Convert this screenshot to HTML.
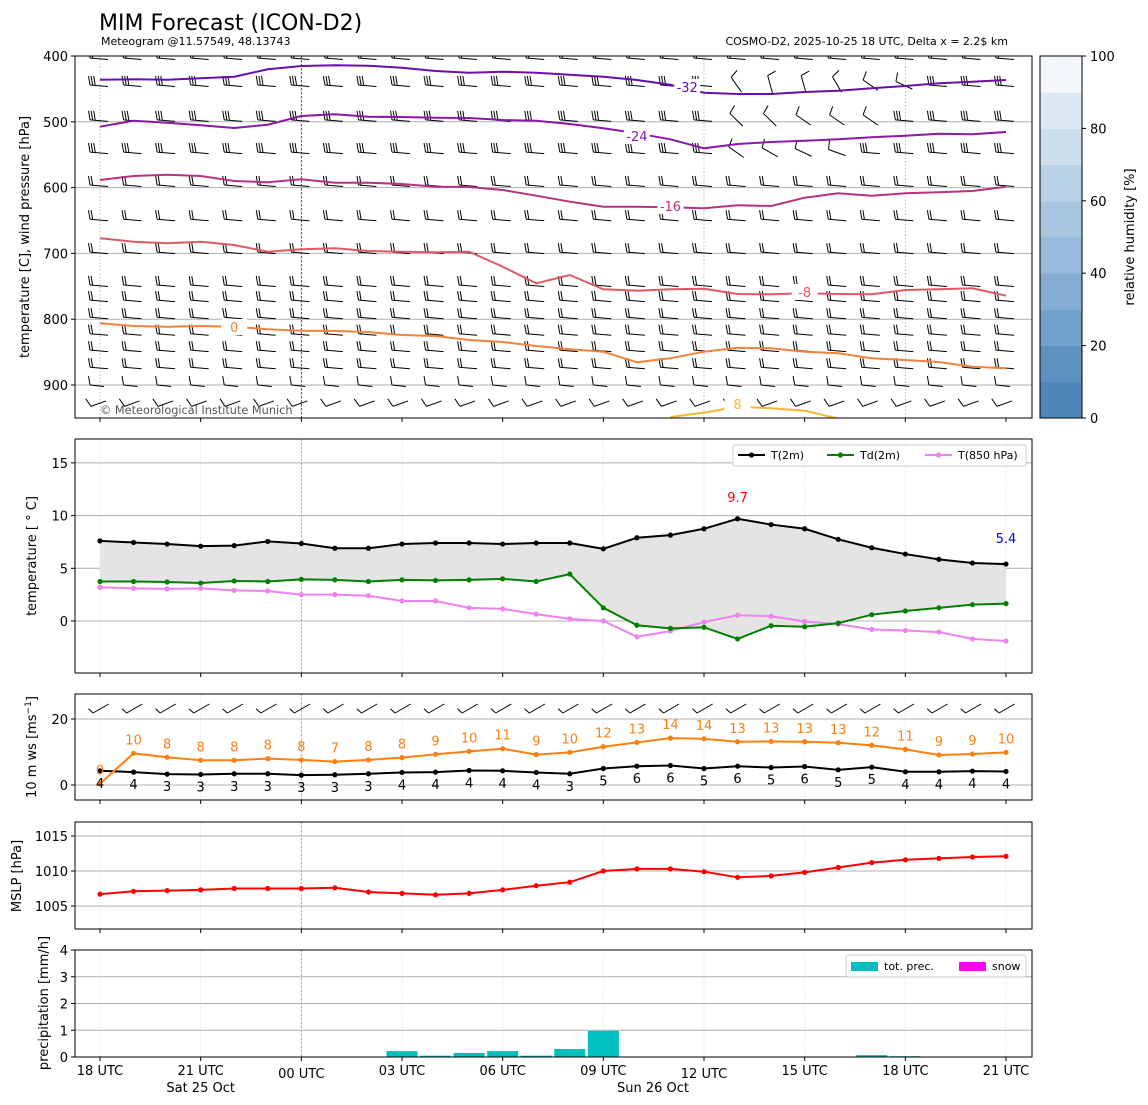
<!DOCTYPE html>
<html><head><meta charset="utf-8"><style>
html,body{margin:0;padding:0;background:#fff}
svg{display:block;font-family:"DejaVu Sans","Liberation Sans",sans-serif}
</style></head><body>
<svg id="chart" width="1148" height="1105" viewBox="0 0 1148 1105" xmlns="http://www.w3.org/2000/svg">
<defs>
<clipPath id="c1"><rect x="75" y="56" width="957" height="362"/></clipPath>
<clipPath id="c2"><rect x="75" y="439" width="957" height="234"/></clipPath>
<clipPath id="c3"><rect x="75" y="694" width="957" height="106"/></clipPath>
</defs>
<text x="99" y="30" font-size="22">MIM Forecast (ICON-D2)</text>
<text x="101" y="45" font-size="11">Meteogram @11.57549, 48.13743</text>
<text x="1008" y="45" font-size="11" text-anchor="end">COSMO-D2, 2025-10-25 18 UTC, Delta x = 2.2$ km</text>
<g id="root"></g>
</svg>
<script>
// ---- data ----
const hours = [0,1,2,3,4,5,6,7,8,9,10,11,12,13,14,15,16,17,18,19,20,21,22,23,24,25,26,27];
const contourM32 = [436,435.4,436,433.9,431.5,420.2,415.2,414.1,414.7,417.8,422.8,425.4,423.9,425.4,428.4,431.5,436.5,443.6,455.8,457.8,457.8,454.7,452.7,449.1,445.6,441.5,439,436.5];
const contourM24 = [507.4,498.3,501.4,505.3,509.4,504.4,491.2,488.6,492.2,492.7,493.8,494.2,497.3,498.3,503.3,509.9,517.5,526.6,540.3,533.7,530.7,528.7,526.6,523.6,521.2,518.1,519,515.5];
const contourM16 = [588.4,582.4,580.4,582.4,590,591.9,587.4,592.6,592.6,594.5,598.6,599.1,603.6,612.3,621.4,629,629,629.9,631.5,626.9,628,615.3,608.7,612.3,608.7,607.1,605.2,598.6];
const contourM8 = [677,682.2,684.7,682.2,687.2,697.4,693.8,692.2,696.4,697.4,698.3,697.4,720.2,745.4,732.8,754.6,756.7,754.6,753.6,761.7,762.2,760.6,761.7,762.2,755.6,754.6,753.1,764.3];
const contour0 = [806.2,810.3,811.4,810.3,811.4,815.3,817.5,817.9,819.5,824,825.5,831.6,834.7,840.7,845.7,849.4,865.5,859.4,849.4,843.3,844.2,849.4,851.8,859.4,862,865,872.2,874.6];
const contour8 = [null,null,null,null,null,null,null,null,null,null,null,null,null,null,null,null,null,948.6,942,933,935.4,939,951,null,null,null,null,null];
const t2m = [7.6,7.45,7.3,7.1,7.15,7.55,7.35,6.9,6.9,7.3,7.4,7.4,7.3,7.4,7.4,6.85,7.9,8.15,8.75,9.7,9.15,8.75,7.75,6.95,6.35,5.85,5.5,5.4];
const td2m = [3.75,3.75,3.7,3.6,3.8,3.75,3.95,3.9,3.75,3.9,3.85,3.9,4.0,3.75,4.45,1.25,-0.4,-0.7,-0.6,-1.7,-0.45,-0.55,-0.2,0.6,0.95,1.25,1.55,1.65];
const t850 = [3.2,3.1,3.05,3.1,2.9,2.85,2.5,2.5,2.4,1.9,1.9,1.25,1.15,0.65,0.2,0.0,-1.5,-0.95,-0.1,0.55,0.45,-0.05,-0.3,-0.8,-0.9,-1.05,-1.7,-1.9];
const gust10m = [0.4,9.6,8.4,7.5,7.5,8,7.6,7.1,7.6,8.3,9.3,10.2,11,9.2,9.9,11.6,12.9,14.2,14,13.1,13.2,13.1,12.8,12,10.8,9.1,9.4,9.9];
const ws10m = [4.3,3.9,3.3,3.2,3.4,3.4,3,3.1,3.4,3.8,3.9,4.4,4.3,3.8,3.4,5,5.7,5.9,5,5.7,5.3,5.6,4.6,5.4,4,4,4.2,4.1];
const mslp = [1006.7,1007.1,1007.2,1007.3,1007.5,1007.5,1007.5,1007.6,1007.0,1006.8,1006.6,1006.8,1007.3,1007.9,1008.4,1010.0,1010.3,1010.3,1009.9,1009.1,1009.3,1009.8,1010.5,1011.2,1011.6,1011.8,1012.0,1012.1];
const precip = [0,0,0,0,0,0,0,0,0,0.22,0.05,0.15,0.22,0.05,0.3,0.98,0,0,0,0,0,0,0,0.07,0.03,0,0,0];
const barbLevels = [400,441,494,543,593,645,695,745,768,794,819,844,870,897,923];
const barbFeathers = [2,3,3,3,2,2,2,2,2,2,2,2,2,1,1];
const pTicks = [400,500,600,700,800,900];
const tTicks = [0,5,10,15];
const wTicks = [0,20];
const mTicks = [1005,1010,1015];
const rTicks = [0,1,2,3,4];
const rhTicks = [0,20,40,60,80,100];
const xTickHours = [0,3,6,9,12,15,18,21,24,27];
const xTickLabels = ['18 UTC','21 UTC','00 UTC','03 UTC','06 UTC','09 UTC','12 UTC','15 UTC','18 UTC','21 UTC'];

// ---- scales ----
const X = h => 100 + h*(906/27);
const yP = p => 56 + (p-400)*0.658;
const yT = t => 621 - t*10.54;
const yW = v => 785 - v*3.3;
const yM = m => 871 - (m-1010)*7;
const yR = r => 1057 - r*26.75;
const NS='http://www.w3.org/2000/svg';
const root=document.getElementById('root');
function mk(tag,attrs,parent){const e=document.createElementNS(NS,tag);for(const k in attrs)e.setAttribute(k,attrs[k]);(parent||root).appendChild(e);return e;}
function txt(s,attrs,parent){const e=mk('text',attrs,parent);e.textContent=s;return e;}
const panels=[[56,418],[439,673],[694,800],[822,929],[950,1057]];

// grids (vertical)
panels.forEach((pp,i)=>{
  xTickHours.forEach(h=>{
    if(h===6) return;
    if(i===0 && !(h===0||h===18||h===24)) return;
    const g=mk('line',{x1:X(h),x2:X(h),y1:pp[0],y2:pp[1],stroke:i===0?'#aaa':'#e4e4e4','stroke-width':0.8,'stroke-dasharray':i===0?'1.5,2':'2,1.5'});
    
    
  });
  const m=mk('line',{x1:X(6),x2:X(6),y1:pp[0],y2:pp[1],stroke:i===0?'#222':'#999','stroke-width':0.8,'stroke-dasharray':'2.5,1.5'});
  
  
});

// ---- Panel 1 ----
const p1=mk('g',{'clip-path':'url(#c1)'});


pTicks.forEach(p=>{ if(p>400) mk('line',{x1:75,x2:1032,y1:yP(p),y2:yP(p),stroke:'#b0b0b0','stroke-width':1},p1);});
function barb(x,y,ang,n,par,len){
  const g=mk('g',{transform:`translate(${x},${y}) rotate(${ang})`,stroke:'#000','stroke-width':1,fill:'none'},par);
  
  
  mk('line',{x1:-10,y1:0,x2:len,y2:1.5},g);
  for(let k=0;k<n;k++) mk('line',{x1:-10+k*2.6,y1:0,x2:-11.5+k*2.6,y2:-9},g);
}
const barbAngles={441:{19:50,20:70,21:70,22:55,23:30,24:20},494:{19:40,20:40,21:30,22:30,23:30},543:{19:30,20:25,21:20,22:15}};
barbLevels.forEach((p,r)=>{
  hours.forEach(h=>{
    let a=0,len=8,n=barbFeathers[r];
    if(barbAngles[p]&&barbAngles[p][h]!==undefined){a=barbAngles[p][h];n=1;}
    if(p===897){len=4;}
    if(p===923){a=-25;len=6;}
    barb(X(h),yP(p)+2,a,n,p1,len);
  });
});
const contours=[[contourM32,'#6a0dad','-32',17.5,88],[contourM24,'#8b18a8','-24',16,137],[contourM16,'#b8327f','-16',17,207],[contourM8,'#df5a66','-8',21,293],[contour0,'#f4823c','0',4,328],[contour8,'#f8b82e','8',19,405]];
contours.forEach(c=>{
  let d='';let started=false;
  c[0].forEach((v,i)=>{ if(v===null){started=false;return;} d+=(started?'L':'M')+X(hours[i]).toFixed(1)+','+yP(v).toFixed(1); started=true;});
  const pth=mk('path',{d:d,fill:'none',stroke:c[1],'stroke-width':2},p1);
  
  
  const lx=X(c[3]);
  mk('rect',{x:lx-13,y:c[4]-9,width:26,height:16,fill:'#fff'},p1);
  const t=txt(c[2],{x:lx,y:c[4]+4,'font-size':13,fill:c[1],'text-anchor':'middle'},p1);
  
  
});
txt('© Meteorological Institute Munich',{x:100,y:414,'font-size':11.3,fill:'#555'},p1);

// ---- Panel 2 ----
const p2=mk('g',{'clip-path':'url(#c2)'});


tTicks.forEach(t=>mk('line',{x1:75,x2:1032,y1:yT(t),y2:yT(t),stroke:'#b0b0b0','stroke-width':1},p2));
let fd='M'+hours.map(h=>X(h)+','+yT(t2m[h])).join('L')+'L'+hours.slice().reverse().map(h=>X(h)+','+yT(td2m[h])).join('L')+'Z';
const fill=mk('path',{d:fd,fill:'#e4e4e4',stroke:'none'},p2);


function series(arr,ys,color,name,par,w){
  const l=mk('polyline',{points:hours.map(h=>X(h)+','+ys(arr[h])).join(' '),fill:'none',stroke:color,'stroke-width':w||2},par);
  
  
  hours.forEach(h=>{const c=mk('circle',{cx:X(h),cy:ys(arr[h]),r:2.6,fill:color},par);
    
    });
}
series(t850,yT,'#ee82ee','t850',p2);
series(td2m,yT,'#008000','td2m',p2);
series(t2m,yT,'#000','t2m',p2);
let imax=0;t2m.forEach((v,i)=>{if(v>t2m[imax])imax=i;});
txt(t2m[imax].toFixed(1),{x:X(imax),y:yT(t2m[imax])-17,'font-size':13,fill:'#f00','text-anchor':'middle'},p2);
txt(t2m[27].toFixed(1),{x:X(27),y:yT(t2m[27])-21,'font-size':13,fill:'#00f','text-anchor':'middle'},p2);
const lg=mk('g',{});


mk('rect',{x:733,y:445,width:293,height:21,fill:'#fff',stroke:'#ccc',rx:2},lg);
[['T(2m)','#000',738],['Td(2m)','#008000',827],['T(850 hPa)','#ee82ee',925]].forEach(e=>{
  mk('line',{x1:e[2],x2:e[2]+27,y1:455,y2:455,stroke:e[1],'stroke-width':2},lg);
  mk('circle',{cx:e[2]+13.5,cy:455,r:2.6,fill:e[1]},lg);
  txt(e[0],{x:e[2]+33,y:459,'font-size':11},lg);
});

// ---- Panel 3 ----
const p3=mk('g',{'clip-path':'url(#c3)'});


wTicks.forEach(t=>mk('line',{x1:75,x2:1032,y1:yW(t),y2:yW(t),stroke:'#b0b0b0','stroke-width':1},p3));
hours.forEach(h=>{
  const g=mk('g',{transform:`translate(${X(h)},709) rotate(-30)`,stroke:'#000','stroke-width':1,fill:'none'},p3);
  
  
  mk('line',{x1:-8,y1:0,x2:10,y2:0},g);
  mk('line',{x1:-8,y1:0,x2:-10,y2:-6},g);
});
series(ws10m,yW,'#000','wind-speed',p3);
series(gust10m,yW,'#ff7f0e','wind-gust',p3);
hours.forEach(h=>{
  const a=txt(String(Math.round(gust10m[h])),{x:X(h),y:yW(gust10m[h])-9,'font-size':13,fill:'#ff7f0e','text-anchor':'middle'},p3);
  
  
  const b=txt(String(Math.round(ws10m[h])),{x:X(h),y:yW(ws10m[h])+17,'font-size':13,fill:'#000','text-anchor':'middle'},p3);
  
  
});

// ---- Panel 4 ----
const p4=mk('g',{});


mTicks.forEach(t=>mk('line',{x1:75,x2:1032,y1:yM(t),y2:yM(t),stroke:'#b0b0b0','stroke-width':1},p4));
series(mslp,yM,'#f00','mslp',p4);

// ---- Panel 5 ----
const p5=mk('g',{});


rTicks.forEach(t=>{ if(t>0) mk('line',{x1:75,x2:1032,y1:yR(t),y2:yR(t),stroke:'#b0b0b0','stroke-width':1},p5);});
hours.forEach(h=>{ if(precip[h]>0){
  const b=mk('rect',{x:X(h)-15.5,y:yR(precip[h]),width:31,height:yR(0)-yR(precip[h]),fill:'#00bfbf'},p5);
  
  
}});
const lg2=mk('g',{});


mk('rect',{x:846,y:955,width:180,height:22,fill:'#fff',stroke:'#ccc',rx:2},lg2);
mk('rect',{x:851,y:962,width:27,height:9,fill:'#00bfbf'},lg2);
txt('tot. prec.',{x:884,y:970,'font-size':11},lg2);
mk('rect',{x:959,y:962,width:27,height:9,fill:'#ff00ff'},lg2);
txt('snow',{x:992,y:970,'font-size':11},lg2);

// ---- axes frames, ticks ----
function yAxis(ticks,ys){
  ticks.forEach(t=>{const y=ys(t);mk('line',{x1:71,x2:75,y1:y,y2:y,stroke:'#000'});
    txt(String(t),{x:68,y:y+5,'font-size':13,'text-anchor':'end'});});
}
yAxis(pTicks,yP);yAxis(tTicks,yT);yAxis(wTicks,yW);yAxis(mTicks,yM);yAxis(rTicks,yR);
panels.forEach(pp=>{
  const f=mk('rect',{x:75,y:pp[0],width:957,height:pp[1]-pp[0],fill:'none',stroke:'#000','stroke-width':1});
  
  
  xTickHours.forEach(h=>mk('line',{x1:X(h),x2:X(h),y1:pp[1],y2:pp[1]+4,stroke:'#000'}));
});
xTickLabels.forEach((s,i)=>{
  const h=xTickHours[i];const low=(h===6||h===18);
  const t=txt(s,{x:X(h),y:low?1078:1075,'font-size':13,'text-anchor':'middle'});
  
  
});
txt('Sat 25 Oct',{x:X(3),y:1092,'font-size':13,'text-anchor':'middle'});
txt('Sun 26 Oct',{x:653,y:1092,'font-size':13,'text-anchor':'middle'});
function ylab(s,x,y,name){const t=txt(s,{x:x,y:y,'font-size':13,'text-anchor':'middle',transform:`rotate(-90 ${x} ${y})`});
  return t;}
ylab('temperature [C], wind pressure [hPa]',29,237,'upper-y-axis-title');
ylab('temperature [ ° C]',36,556,'temp-y-axis-title');
const wl=ylab('',36,747,'wind-y-axis-title');wl.innerHTML='10 m ws [ms<tspan dy="-5" font-size="9">−1</tspan><tspan dy="5">]</tspan>';
ylab('MSLP [hPa]',21,876,'mslp-y-axis-title');
ylab('precipitation [mm/h]',48,1003,'precip-y-axis-title');

const cbColors=['#5087bb','#5e91c2','#71a0cb','#85add3','#96bad9','#a8c6e0','#bad2e7','#cddeed','#dfe9f3','#f3f7fc'];
const cb=mk('g',{});


const yC=v=>418-v*3.62;
cbColors.forEach((c,i)=>mk('rect',{x:1040,y:yC((i+1)*10),width:42,height:36.7,fill:c},cb));
mk('rect',{x:1040,y:56,width:42,height:362,fill:'none',stroke:'#000'},cb);
rhTicks.forEach(v=>{mk('line',{x1:1082,x2:1086,y1:yC(v),y2:yC(v),stroke:'#000'},cb);
  txt(String(v),{x:1090,y:yC(v)+5,'font-size':13},cb);});
ylab('relative humidity [%]',1134,237,'colorbar-title');
</script>
</body></html>
